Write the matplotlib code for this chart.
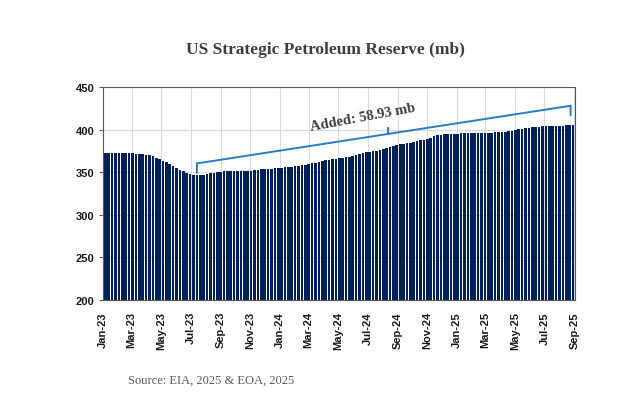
""" US Strategic Petroleum Reserve weekly stocks, Jan-23 to Sep-25 """
import matplotlib
matplotlib.use("Agg")
import matplotlib.pyplot as plt
import matplotlib.dates as mdates
import pandas as pd

# weekly SPR stocks (million barrels), Fridays from 2023-01-06
spr_2023 = [372.3, 372.3, 372.2, 372.2,
            372.1, 372.1, 372.1, 372.1,
            372.0, 371.9, 371.9, 371.4, 370.2,
            370.3, 368.8, 367.2, 365.6,
            363.7, 361.7, 359.7, 357.6,
            355.3, 353.0, 351.1, 349.2, 347.6,
            347.0, 346.8, 346.8, 347.0,
            347.6, 348.6, 349.6, 350.3,
            350.6, 350.9, 351.1, 351.3, 351.4,
            351.5, 351.6, 351.6, 351.6,
            351.8, 352.1, 352.6, 353.2,
            353.6, 353.9, 354.2, 354.4, 354.7]
spr_2024 = [355.2, 355.8, 356.4, 356.7,
            357.2, 357.6, 358.2, 358.8,
            359.5, 360.3, 361.2, 362.3, 363.3,
            364.1, 364.8, 365.4, 366.0,
            366.6, 367.1, 367.6, 368.3, 369.0,
            370.0, 371.2, 372.3, 373.3,
            374.0, 374.6, 375.2, 375.9,
            376.8, 378.5, 380.0, 381.3, 382.3,
            383.0, 383.6, 384.2, 384.8,
            385.6, 386.6, 387.4, 388.0,
            389.0, 390.6, 392.3, 393.6, 394.2,
            394.5, 394.7, 394.9, 395.1]
spr_2025 = [395.3, 395.5, 395.6, 395.8, 395.9,
            396.0, 396.2, 396.3, 396.4,
            396.5, 396.6, 396.7, 396.8,
            397.0, 397.4, 397.9, 398.6,
            399.4, 400.3, 401.2, 401.8, 402.4,
            403.0, 403.4, 403.6, 403.7,
            403.8, 403.9, 404.0, 404.1,
            404.3, 404.7, 405.0, 405.4, 405.7]

values = spr_2023 + spr_2024 + spr_2025
weeks = pd.date_range("2023-01-06", periods=len(values), freq="7D")

tick_dates = pd.date_range("2023-01-01", "2025-09-01", freq="2MS")
tick_labels = [d.strftime("%b-%y") for d in tick_dates]
y_ticks = [200, 250, 300, 350, 400, 450]

added_label = "Added: 58.93 mb"
title = "US Strategic Petroleum Reserve (mb)"
source = "Source: EIA, 2025 & EOA, 2025"

fig = plt.figure(figsize=(6.24, 4.06), dpi=100)
ax = fig.add_axes([0.165, 0.2586, 0.7564, 0.5246])

ax.bar(weeks, values, width=5.4, color="#00205c", linewidth=0, zorder=2)

ax.set_ylim(200, 450)
ax.set_yticks(y_ticks)
ax.set_xlim(pd.Timestamp("2023-01-02"), pd.Timestamp("2025-09-02"))
ax.set_xticks(tick_dates)
ax.set_xticklabels(tick_labels, rotation=90)

ax.grid(True, color="#d9d9d9", linewidth=0.8, zorder=0)
ax.set_axisbelow(True)
for side in ["top", "right", "left", "bottom"]:
    ax.spines[side].set_color("#595959")
    ax.spines[side].set_linewidth(0.8)

for lab in ax.get_xticklabels() + ax.get_yticklabels():
    lab.set_fontfamily("Liberation Sans")
    lab.set_fontweight("bold")
    lab.set_color("#1a1a1a")
for lab in ax.get_xticklabels():
    lab.set_fontsize(8)
for lab in ax.get_yticklabels():
    lab.set_fontsize(8)
ax.tick_params(axis="x", length=0, pad=8)
ax.tick_params(axis="y", length=3, color="#595959", pad=3)

# bracket over the refill period
blue = "#2b7bc4"
x0 = mdates.date2num(pd.Timestamp("2023-07-14"))
x1 = mdates.date2num(pd.Timestamp("2025-08-24"))
xm = mdates.date2num(pd.Timestamp("2024-08-11"))
y0, y1 = 360.3, 428.0
ax.plot([x0, x0, x1, x1], [349.5, y0, y1, 417.0], color=blue, lw=1.4,
        zorder=3, solid_joinstyle="miter")
ym = y0 + (y1 - y0) * (xm - x0) / (x1 - x0)
ax.plot([xm, xm], [ym, ym + 6.5], color=blue, lw=1.4, zorder=3)

fig.text(0.582, 0.709, added_label, fontsize=10.5, fontweight="bold",
         family="Liberation Serif", color="#3d3d3d", rotation=10.5,
         ha="center", va="center")

fig.text(0.522, 0.877, title, fontsize=12.5, fontweight="bold",
         family="Liberation Serif", color="#3d3d3d", ha="center", va="center")
fig.text(0.205, 0.062, source, fontsize=9, family="Liberation Serif",
         color="#595959", ha="left", va="center")

fig.savefig("out.png", dpi=100)
